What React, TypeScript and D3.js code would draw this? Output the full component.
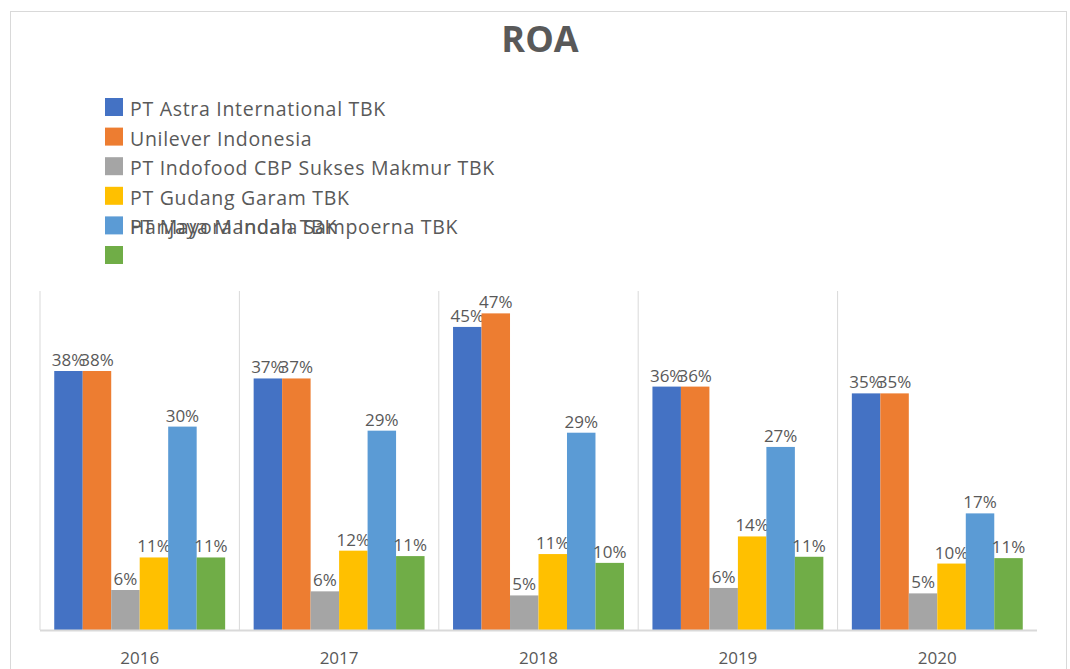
import React from 'react';
import * as d3 from 'd3';

const years = ['2016', '2017', '2018', '2019', '2020'];

const seriesNames = [
  'PT Astra International TBK',
  'Unilever Indonesia',
  'PT Indofood CBP Sukses Makmur TBK',
  'PT Gudang Garam TBK',
  'Hanjaya Mandala Sampoerna TBK',
  'PT Mayora Indah TBK',
];

// the last two legend texts overlap on one row in the original picture
const legendTextRow = [0, 1, 2, 3, 4, 4];

const astra = [0.382, 0.371, 0.447, 0.359, 0.349];
const unilever = [0.382, 0.371, 0.467, 0.359, 0.349];
const indofood = [0.059, 0.057, 0.051, 0.062, 0.054];
const gudangGaram = [0.107, 0.117, 0.112, 0.138, 0.098];
const sampoerna = [0.300, 0.294, 0.291, 0.270, 0.172];
const mayora = [0.107, 0.109, 0.099, 0.108, 0.106];

const seriesValues = [astra, unilever, indofood, gudangGaram, sampoerna, mayora];
const colors = ['#4472C4', '#ED7D31', '#A5A5A5', '#FFC000', '#5B9BD5', '#70AD47'];

const W = 1070;
const H = 669;
const plot = { left: 40, right: 1037, top: 291, bottom: 630 };
const font = "'Open Sans', 'DejaVu Sans', sans-serif";
const textColor = '#595959';

export default function App() {
  const x0 = d3.scaleBand<string>().domain(years).range([plot.left, plot.right]).paddingInner(0).paddingOuter(0);
  const x1 = d3
    .scaleBand<number>()
    .domain(d3.range(seriesNames.length))
    .range([0, x0.bandwidth()])
    .paddingOuter(0.5)
    .paddingInner(0);
  const y = d3.scaleLinear().domain([0, 0.5]).range([plot.bottom, plot.top]);
  const pct = d3.format('.0%');

  return (
    <svg
      width={W}
      height={H}
      style={{ position: 'absolute', left: 0, top: 0, background: '#fff' }}
      fontFamily={font}
    >
      <rect x={10.5} y={11.5} width={1056} height={H} fill="#fff" stroke="#d9d9d9" strokeWidth={1} />
      <text x={540} y={52} textAnchor="middle" fontSize={36} fontWeight={700} fill={textColor}>
        ROA
      </text>

      <g>
        {seriesNames.map((name, i) => (
          <rect key={'sq' + i} x={105} y={98 + i * 29.6} width={18} height={18} fill={colors[i]} />
        ))}
        {seriesNames.map((name, i) => (
          <text
            key={'lt' + i}
            x={130}
            y={116 + legendTextRow[i] * 29.6}
            fontSize={19.5}
            letterSpacing={0.7}
            fill={textColor}
          >
            {name}
          </text>
        ))}
      </g>

      <g>
        {years.map((yr) => (
          <line
            key={'gl' + yr}
            x1={x0(yr)}
            x2={x0(yr)}
            y1={plot.top}
            y2={plot.bottom}
            stroke="#d9d9d9"
            strokeWidth={1}
          />
        ))}
      </g>

      <g>
        {years.map((yr, yi) =>
          seriesValues.map((vals, si) => {
            const bx = (x0(yr) as number) + (x1(si) as number);
            const bw = x1.bandwidth();
            return (
              <g key={yr + '-' + si}>
                <rect x={bx} y={y(vals[yi])} width={bw} height={y(0) - y(vals[yi])} fill={colors[si]} />
                <text
                  x={bx + bw / 2}
                  y={y(vals[yi]) - 5}
                  textAnchor="middle"
                  fontSize={17}
                  fill={textColor}
                >
                  {pct(vals[yi])}
                </text>
              </g>
            );
          })
        )}
      </g>

      <line x1={plot.left} x2={plot.right} y1={plot.bottom + 0.5} y2={plot.bottom + 0.5} stroke="#d9d9d9" strokeWidth={2} />

      <g>
        {years.map((yr) => (
          <text
            key={'yl' + yr}
            x={(x0(yr) as number) + x0.bandwidth() / 2}
            y={664}
            textAnchor="middle"
            fontSize={17}
            fill={textColor}
          >
            {yr}
          </text>
        ))}
      </g>
    </svg>
  );
}
